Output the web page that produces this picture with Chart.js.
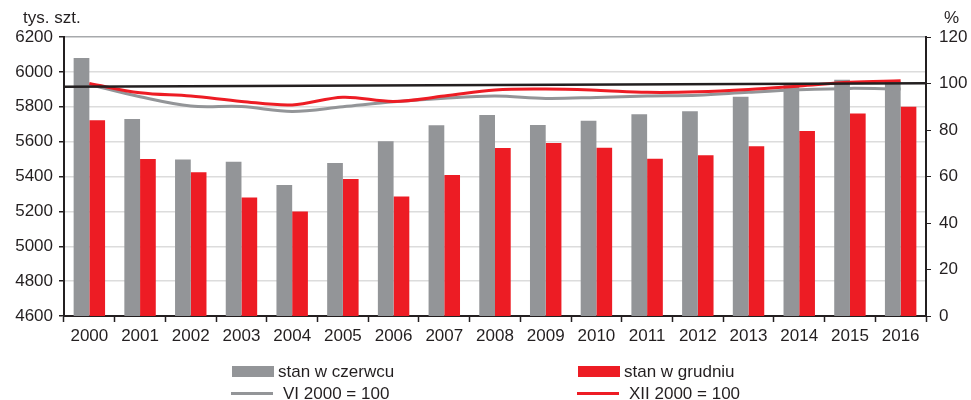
<!DOCTYPE html>
<html>
<head>
<meta charset="utf-8">
<script src="https://cdn.jsdelivr.net/npm/chart.js@4"></script>
<style>
  html, body { margin: 0; padding: 0; background: #fff; }
  #wrap { position: relative; width: 971px; height: 400px; font-family: "Liberation Sans", Arial, sans-serif; color: #231f20; }
  canvas { position: absolute; left: 0; top: 0; }
  .title { position: absolute; font-size: 17px; }
  .leg { position: absolute; font-size: 17px; line-height: 17px; display: flex; align-items: center; }
  .leg .box { width: 42px; height: 11px; margin-right: 4px; }
  .leg .ln { width: 42px; height: 3px; margin-right: 10px; }
</style>
</head>
<body>
<div id="wrap">
  <canvas id="chart" width="971" height="400"></canvas>
  <div class="title" style="left:23px;top:8px;">tys. szt.</div>
  <div class="title" style="left:944px;top:8px;">%</div>
  <div class="leg" style="left:232px;top:363px;"><span class="box" style="background:#939598"></span>stan w czerwcu</div>
  <div class="leg" style="left:578px;top:363px;"><span class="box" style="background:#ed1c24"></span>stan w grudniu</div>
  <div class="leg" style="left:231px;top:385px;"><span class="ln" style="background:#939598"></span>VI 2000 = 100</div>
  <div class="leg" style="left:577px;top:385px;"><span class="ln" style="background:#ed1c24"></span>XII 2000 = 100</div>
</div>
<script>
// Pogłowie - dane
const years = ["2000", "2001", "2002", "2003", "2004", "2005", "2006", "2007", "2008",
               "2009", "2010", "2011", "2012", "2013", "2014", "2015", "2016"];
const stanCzerwiec = [6080, 5730, 5497, 5485, 5351, 5478, 5602, 5694, 5753,
                      5695, 5720, 5757, 5774, 5858, 5925, 5955, 5945];
const stanGrudzien = [5722, 5500, 5424, 5280, 5200, 5386, 5286, 5409, 5564,
                      5592, 5565, 5502, 5522, 5573, 5661, 5762, 5800];
const indeksVI = [99.6, 94.3, 90.3, 90.1, 88.0, 90.0, 92.1, 93.7, 94.6,
                  93.6, 94.0, 94.6, 94.9, 96.2, 97.3, 97.9, 97.6];
const indeksXII = [100.0, 96.0, 94.6, 92.3, 90.8, 94.1, 92.3, 94.6, 97.2,
                   97.6, 97.1, 96.2, 96.4, 97.4, 98.9, 100.5, 101.2];
const refLine = [98.6, 100.1]; // linia 100% (początek, koniec)
const leftTicks = [4600, 4800, 5000, 5200, 5400, 5600, 5800, 6000, 6200];
const rightTicks = [0, 20, 40, 60, 80, 100, 120];

const GRAY = "#939598";
const RED = "#ed1c24";
const DARK = "#231f20";

// black reference line across the whole plot
const refLinePlugin = {
    id: "refLine",
    afterDatasetsDraw(chart) {
        const ctx = chart.ctx;
        const area = chart.chartArea;
        const y1 = chart.scales.y1;
        ctx.save();
        ctx.strokeStyle = DARK;
        ctx.lineWidth = 2.5;
        ctx.beginPath();
        ctx.moveTo(area.left, y1.getPixelForValue(refLine[0]));
        ctx.lineTo(area.right, y1.getPixelForValue(refLine[1]));
        ctx.stroke();
        ctx.restore();
    },
};

const ctx = document.getElementById("chart").getContext("2d");
const chart = new Chart(ctx, {
    type: "bar",
    data: {
        labels: years,
        datasets: [
            {
                label: "stan w czerwcu",
                data: stanCzerwiec,
                backgroundColor: GRAY,
                yAxisID: "y",
                categoryPercentage: 0.62,
                barPercentage: 1.0,
                order: 2,
            },
            {
                label: "stan w grudniu",
                data: stanGrudzien,
                backgroundColor: RED,
                yAxisID: "y",
                categoryPercentage: 0.62,
                barPercentage: 1.0,
                order: 3,
            },
            {
                type: "line",
                label: "VI 2000 = 100",
                data: indeksVI,
                yAxisID: "y1",
                borderColor: GRAY,
                borderWidth: 3,
                pointRadius: 0,
                tension: 0.35,
                order: 1,
            },
            {
                type: "line",
                label: "XII 2000 = 100",
                data: indeksXII,
                yAxisID: "y1",
                borderColor: RED,
                borderWidth: 3,
                pointRadius: 0,
                tension: 0.35,
                order: 0,
            },
        ],
    },
    options: {
        responsive: false,
        animation: false,
        layout: { padding: { top: 37, bottom: 44, left: 0, right: 0 } },
        plugins: {
            legend: { display: false },
            tooltip: { enabled: false },
        },
        scales: {
            x: {
                offset: true,
                grid: {
                    offset: true,
                    drawOnChartArea: false,
                    tickColor: DARK,
                    tickLength: 6,
                    tickWidth: 1.5,
                },
                border: { color: DARK, width: 2 },
                ticks: {
                    color: DARK,
                    font: { family: "Liberation Sans", size: 17 },
                    padding: 4,
                    maxRotation: 0,
                },
                afterFit: (s) => { s.height = 40; },
            },
            y: {
                position: "left",
                min: 4600,
                max: 6200,
                afterBuildTicks: (s) => { s.ticks = leftTicks.map((v) => ({ value: v })); },
                grid: {
                    color: (c) => (c.tick && c.tick.value === 6200 ? "#a7a9ac" : "#dcdcdc"),
                    lineWidth: 1.5,
                    tickColor: DARK,
                    tickLength: 5,
                },
                border: { color: DARK, width: 2 },
                ticks: {
                    color: DARK,
                    font: { family: "Liberation Sans", size: 17 },
                    padding: 6,
                    callback: (v) => String(v),
                },
                afterFit: (s) => { s.width = 64; },
            },
            y1: {
                position: "right",
                min: 0,
                max: 120,
                afterBuildTicks: (s) => { s.ticks = rightTicks.map((v) => ({ value: v })); },
                grid: {
                    drawOnChartArea: false,
                    tickColor: DARK,
                    tickLength: 5,
                },
                border: { color: DARK, width: 2 },
                ticks: {
                    color: DARK,
                    font: { family: "Liberation Sans", size: 17 },
                    padding: 8,
                    callback: (v) => String(v),
                },
                afterFit: (s) => { s.width = 45; },
            },
        },
    },
    plugins: [refLinePlugin],
});
</script>
</body>
</html>
